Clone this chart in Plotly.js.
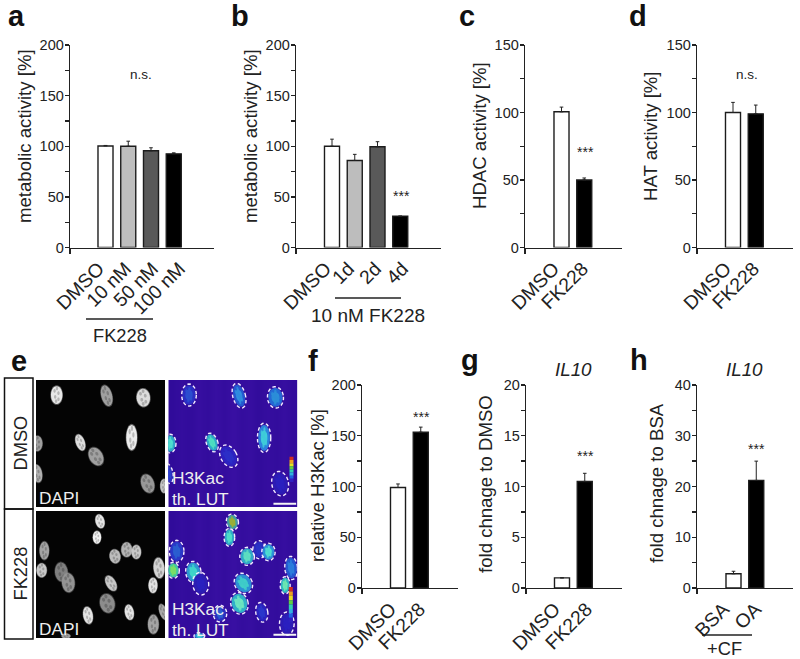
<!DOCTYPE html>
<html><head><meta charset="utf-8">
<script src="https://cdn.plot.ly/plotly-3.0.1.min.js"></script>
<style>html,body{margin:0;padding:0;background:#fff}#c{width:800px;height:659px}</style></head>
<body><div id="c"></div>
<script>
// ---------- chart values ----------
const catA = ['DMSO','10 nM','50 nM','100 nM'];
const valA = [100.3,100,95.5,92.5];
const errA = [0.5,5,3,1];
const catB = ['DMSO','1d','2d','4d'];
const valB = [100,86,99.5,31];
const errB = [7,6,5,0];
const catC = ['DMSO','FK228'];
const valC = [100.5,50];
const errC = [3.5,1.5];
const catD = ['DMSO','FK228'];
const valD = [100,99];
const errD = [7.5,6.5];
const catF = ['DMSO','FK228'];
const valF = [99,153.5];
const errF = [3.5,5];
const catG = ['DMSO','FK228'];
const valG = [1,10.5];
const errG = [0,0.8];
const catH = ['BSA','OA'];
const valH = [2.8,21.2];
const errH = [0.5,3.8];
const fill4 = ['#ffffff','#bdbdbd','#595959','#000000'];
const fill2 = ['#ffffff','#000000'];

// micrograph outlines: cx, cy, semi-x, semi-y, tilt, gray (reference crop units)
const dapiTop = [[170,90,18,28,0,'#e8e8e8'],[320,92,17,33,-15,'#a0a0a0'],[430,98,21,28,-5,'#dcdcdc'],[395,217,17,39,0,'#ececec'],[241,232,14,26,-20,'#dedede'],[288,274,21,30,-30,'#a0a0a0'],[112,235,16,24,0,'#a0a0a0'],[112,325,15,28,-10,'#b0b0b0'],[443,355,20,30,-20,'#989898'],[492,362,12,22,0,'#c4c4c4']];
const dapiBot = [[300,468,14,22,-15,'#e4e4e4'],[291,516,13,20,0,'#f2f2f2'],[133,556,15,28,0,'#a4a4a4'],[125,615,16,22,0,'#c8c8c8'],[184,620,20,30,-5,'#808080'],[205,652,20,30,-5,'#949494'],[345,573,17,22,-10,'#bcbcbc'],[380,553,17,23,0,'#b4b4b4'],[409,560,15,22,0,'#c8c8c8'],[477,608,17,32,-5,'#d4d4d4'],[459,660,14,24,0,'#e4e4e4'],[333,654,15,26,-30,'#c8c8c8'],[322,714,23,30,-15,'#8c8c8c'],[264,750,15,27,-10,'#e4e4e4'],[388,741,14,24,-10,'#e4e4e4'],[460,777,17,30,0,'#a4a4a4'],[490,740,12,26,-20,'#a8a8a8'],[198,812,14,8,0,'#a0a0a0']];
const lutTop = [[567,90,22,33,0,'#2a2fc4','#2c50d0'],[717,92,19,38,-15,'#2458d0','#3090e0'],[826,97,24,32,-5,'#2468d4','#2c90d8'],[792,218,20,44,0,'#2c80dc','#40d0d8'],[636,232,17,29,-20,'#2ea8c8','#50e0c0'],[686,273,24,36,-30,'#2c22c0','#2c30c8'],[510,235,18,28,0,'#2ea8c8','#50e0d0'],[840,355,25,37,-10,'#2c1cb4','#2a20c0'],[505,325,14,30,-10,'#2a30c0','#2a40d0']];
const lutBot = [[697,470,18,24,-10,'#40a0a0','#a0b030'],[688,516,16,27,0,'#2ea8c8','#50e0c8'],[530,558,22,33,0,'#2a38c8','#2a60d0'],[520,615,18,24,0,'#40c8a0','#80e060'],[580,620,23,32,-5,'#2c98d0','#40d8c8'],[602,655,24,34,-5,'#2c1eb4','#2a20c0'],[741,573,22,27,0,'#30a8c8','#60e0c0'],[777,553,19,27,0,'#2a2cc0','#2a34c8'],[805,560,20,26,0,'#2c90d8','#50e0d0'],[873,608,19,35,-5,'#2458d0','#2c80dc'],[855,660,15,26,0,'#30b8c0','#70e8b0'],[730,654,26,32,-30,'#2c90d4','#40d0c8'],[718,714,26,33,-15,'#30b0c8','#70e8c0'],[660,745,20,25,0,'#2a30c0','#2c60d0'],[785,741,18,30,-10,'#2a24c0','#2a38cc'],[860,775,22,35,0,'#2c1cb4','#2a20c0'],[598,812,16,10,0,'#2c90d4','#50d0d0']];
const lutScale = ['#d03020','#f0a020','#e8e020','#60d040','#30d0b0','#30b0e0','#2060e0','#3020c0'];
const lutBackground = [[0.2,0.5,0.3,0.7,0.4,0.8,0.5,0.9,0.5,0.7,0.3,0.6,0.4,0.7,0.3]];
const speckle = [[-0.35,-0.45],[0.3,-0.2],[-0.25,0.2],[0.3,0.45],[0.05,-0.7],[-0.1,0.65]];

// ---------- page layout helpers ----------
const W = 800, H = 659;
const px = v => v / W, py = v => 1 - v / H;
const ink = '#222222', FONT = '"Liberation Sans", Arial, sans-serif';
const data = [], shapes = [], annotations = [];
const layout = {width:W,height:H,margin:{l:0,r:0,t:0,b:0,pad:0},paper_bgcolor:'#fff',plot_bgcolor:'#fff',
  showlegend:false,font:{family:FONT,color:ink,size:14},shapes,annotations};

function text(x,y,t,size,opt){annotations.push(Object.assign({xref:'paper',yref:'paper',x:px(x),y:py(y),text:t,showarrow:false,
  font:{size,family:FONT,color:ink},xanchor:'center',yanchor:'middle'},opt||{}));}
function pline(x0,x1,y){shapes.push({type:'line',xref:'paper',yref:'paper',x0:px(x0),x1:px(x1),y0:py(y),y1:py(y),line:{color:ink,width:1.3}});}

let axisN = 0;
function newAxes(){axisN++;return axisN===1?['x','y','xaxis','yaxis']:['x'+axisN,'y'+axisN,'xaxis'+axisN,'yaxis'+axisN];}

function barPanel(p){
  const [xa,ya,xk,yk] = newAxes();
  const xs = p.cats.map((_,i)=>i);
  const lo = (p.left-p.first)/p.pitch, hi = (p.right-p.first)/p.pitch;
  // rotated labels are spread a little wider than the bars, as in the reference
  const labelAt = p.labelEnds.map(e=>(e-4.5-p.first)/p.pitch);
  data.push({type:'bar',x:xs,y:p.vals,xaxis:xa,yaxis:ya,width:0.66,
    marker:{color:p.fills,line:{color:'#1c1c1c',width:1.4}},cliponaxis:false,
    error_y:{type:'data',symmetric:false,array:p.errs,arrayminus:p.errs.map(()=>0),color:ink,thickness:1,width:1.8}});
  layout[xk]={domain:[px(p.left),px(p.right)],range:[lo,hi],anchor:ya,tickmode:'array',tickvals:labelAt,ticktext:p.cats,
    tickangle:-45,ticks:'',showgrid:false,zeroline:false,showline:true,linecolor:ink,linewidth:1.3,
    tickfont:{size:19.3,family:FONT,color:ink},ticklabelstandoff:1,
    minor:{tickmode:'array',tickvals:[lo],ticks:'outside',ticklen:5,tickwidth:1.3,tickcolor:ink,showgrid:false}};
  layout[yk]={domain:[py(p.bottom),py(p.top)],range:[0,p.ymax],anchor:xa,tickmode:'linear',tick0:0,dtick:p.major,
    ticks:'outside',ticklen:4,tickwidth:1.3,tickcolor:ink,showgrid:false,zeroline:false,showline:true,linecolor:ink,linewidth:1.3,
    tickfont:{size:14.5,family:FONT,color:ink},ticklabelstandoff:-2,
    minor:{dtick:p.major/2,tick0:0,ticks:'outside',ticklen:4,tickwidth:1.3,tickcolor:ink,showgrid:false}};
  text(p.titleX,p.titleY,p.ytitle,18.6,{textangle:-90});
}

const top1=45, bot1=247.5, top2=385, bot2=588;
barPanel({cats:catA,vals:valA,errs:errA,fills:fill4,left:70,right:214,top:top1,bottom:bot1,first:105.5,pitch:22.75,ymax:200,major:50,labelEnds:[103,130,157,184],ytitle:'metabolic activity [%]',titleX:24,titleY:136});
barPanel({cats:catB,vals:valB,errs:errB,fills:fill4,left:296,right:441,top:top1,bottom:bot1,first:332,pitch:22.75,ymax:200,major:50,labelEnds:[330,353,380,407],ytitle:'metabolic activity [%]',titleX:250,titleY:136});
barPanel({cats:catC,vals:valC,errs:errC,fills:fill2,left:525,right:622,top:top1,bottom:bot1,first:561.5,pitch:22.75,ymax:150,major:50,labelEnds:[558,587],ytitle:'HDAC activity [%]',titleX:479,titleY:136});
barPanel({cats:catD,vals:valD,errs:errD,fills:fill2,left:697,right:793,top:top1,bottom:bot1,first:733,pitch:22.75,ymax:150,major:50,labelEnds:[730,758],ytitle:'HAT activity [%]',titleX:650,titleY:136});
barPanel({cats:catF,vals:valF,errs:errF,fills:fill2,left:362,right:458,top:top2,bottom:bot2,first:398,pitch:22.75,ymax:200,major:50,labelEnds:[395,424],ytitle:'relative H3Kac [%]',titleX:317,titleY:486});
barPanel({cats:catG,vals:valG,errs:errG,fills:fill2,left:526,right:622,top:top2,bottom:bot2,first:562,pitch:22.75,ymax:20,major:5,labelEnds:[559,591],ytitle:'fold chnage to DMSO',titleX:485,titleY:484});
barPanel({cats:catH,vals:valH,errs:errH,fills:fill2,left:697,right:793,top:top2,bottom:bot2,first:733.5,pitch:22.75,ymax:40,major:10,labelEnds:[728,760],ytitle:'fold chnage to BSA',titleX:656,titleY:483});

// panel letters
[['a',16,16],['b',240,16],['c',467,16],['d',638,16],['e',19,361],['f',313,361],['g',470,360],['h',639,360]]
  .forEach(l=>text(l[1],l[2],l[0],29,{font:{size:29,family:FONT,color:'#111',weight:700}}));
// significance marks
[['n.s.',141,75],['n.s.',747,75],['***',401,196],['***',585,152],['***',421,417],['***',585,456],['***',756,449]]
  .forEach(s=>text(s[1],s[2],s[0],s[0]==='***'?14:13.5));
// group captions
pline(86,153,319); text(120,335,'FK228',18.3);
pline(335,401,298); text(368,315,'10 nM FK228',19);
pline(702,752,635); text(724,648,'+CF',18.3);
text(573,369,'<i>IL10</i>',18.8); text(744,369,'<i>IL10</i>',18.8);

// ---------- micrograph panels on their own hidden axes ----------
function ellipse(c,scale,dx,dy){
  const a=c[4]*Math.PI/180, sx=c[2]*scale, sy=c[3]*scale, pts=[];
  const ox=(dx||0)*c[2], oy=(dy||0)*c[3];
  const cx=c[0]+ox*Math.cos(a)-oy*Math.sin(a), cy=c[1]+ox*Math.sin(a)+oy*Math.cos(a);
  for(let k=0;k<28;k++){const t=k/28*2*Math.PI, ex=sx*Math.cos(t), ey=sy*Math.sin(t);
    pts.push((cx+ex*Math.cos(a)-ey*Math.sin(a)).toFixed(1)+','+(cy+ex*Math.sin(a)+ey*Math.cos(a)).toFixed(1));}
  return 'M'+pts.join('L')+'Z';
}
function micro(box,range,nuclei,isLut){
  const [xa,ya,xk,yk] = newAxes();
  const ax={visible:false,fixedrange:true,showgrid:false,zeroline:false};
  layout[xk]=Object.assign({domain:[px(box[0]),px(box[1])],range:[range[0],range[1]],anchor:ya},ax);
  layout[yk]=Object.assign({domain:[py(box[3]),py(box[2])],range:[range[3],range[2]],anchor:xa},ax);
  if(isLut){
    const n=lutBackground[0].length, xs=lutBackground[0].map((_,i)=>range[0]+(i+0.5)/n*(range[1]-range[0]));
    data.push({type:'heatmap',x:xs,y:[range[2],range[3]],z:[lutBackground[0],lutBackground[0]],xaxis:xa,yaxis:ya,zsmooth:'best',showscale:false,hoverinfo:'skip',
      zmin:0,zmax:1,colorscale:[[0,'#2e0a98'],[1,'#3a10a4']]});
  } else {
    data.push({type:'heatmap',x:[range[0],range[1]],y:[range[2],range[3]],z:[[0,0],[0,0]],xaxis:xa,yaxis:ya,showscale:false,hoverinfo:'skip',
      zmin:0,zmax:1,colorscale:[[0,'#040404'],[1,'#040404']]});
  }
  nuclei.forEach(c=>{
    const sh=(path,fill,op)=>shapes.push({type:'path',xref:xa,yref:ya,path,fillcolor:fill,opacity:op,line:{width:0}});
    if(isLut){
      sh(ellipse(c,0.88),c[5],1);
      sh(ellipse(c,0.5),c[6],0.9);
      speckle.forEach(s=>sh(ellipse(c,0.16,s[0],s[1]*0.8),c[6],0.8));
      shapes.push({type:'path',xref:xa,yref:ya,path:ellipse(c,1),fillcolor:'rgba(0,0,0,0)',line:{color:'#f2ecff',width:1.4,dash:'3.5px,2.5px'}});
    } else {
      sh(ellipse(c,1.05),c[5],0.4);
      sh(ellipse(c,0.95),c[5],1);
      speckle.forEach(s=>sh(ellipse(c,0.2,s[0],s[1]),'#000000',0.22));
    }
  });
  return [xa,ya];
}
function lutBar(axes,x0,x1,y0,y1){
  const n=lutScale.length;
  lutScale.forEach((col,i)=>shapes.push({type:'rect',xref:axes[0],yref:axes[1],x0,x1,y0:y0+(y1-y0)*i/n,y1:y0+(y1-y0)*(i+1)/n,fillcolor:col,line:{width:0}}));
}
function scaleBar(axes,x0,x1,y){shapes.push({type:'line',xref:axes[0],yref:axes[1],x0,x1,y0:y,y1:y,line:{color:'#f4f4f4',width:2}});}

micro([36,165,380,507],[108,495,45,425],dapiTop,false);
const lutA = micro([168.3,297.5,380,507],[505,892,45,425],lutTop,true);
micro([36,165,511,638],[108,495,437,818],dapiBot,false);
const lutB = micro([168.3,297.5,511,638],[505,892,437,818],lutBot,true);
lutBar(lutA,868,880,275,350); scaleBar(lutA,820,888,415);
lutBar(lutB,866,878,665,770); scaleBar(lutB,820,888,808);

const imgText=(x,y,t)=>text(x,y,t,17.3,{xanchor:'left',font:{size:17.3,family:FONT,color:'#eeeeee'}});
imgText(37,498,'DAPI'); imgText(37,629,'DAPI');
imgText(170,478,'H3Kac'); imgText(170,498.5,'th. LUT');
imgText(170,609,'H3Kac'); imgText(170,629.5,'th. LUT');

// row label boxes
[[378,509],[509,639]].forEach(b=>shapes.push({type:'rect',xref:'paper',yref:'paper',x0:px(4.5),x1:px(33),y0:py(b[1]),y1:py(b[0]),line:{color:'#111',width:1.5},fillcolor:'rgba(0,0,0,0)'}));
text(19.5,443,'DMSO',18.3,{textangle:-90}); text(19.5,574,'FK228',18.3,{textangle:-90});

Plotly.newPlot('c',data,layout,{staticPlot:true,displayModeBar:false});
</script></body></html>
